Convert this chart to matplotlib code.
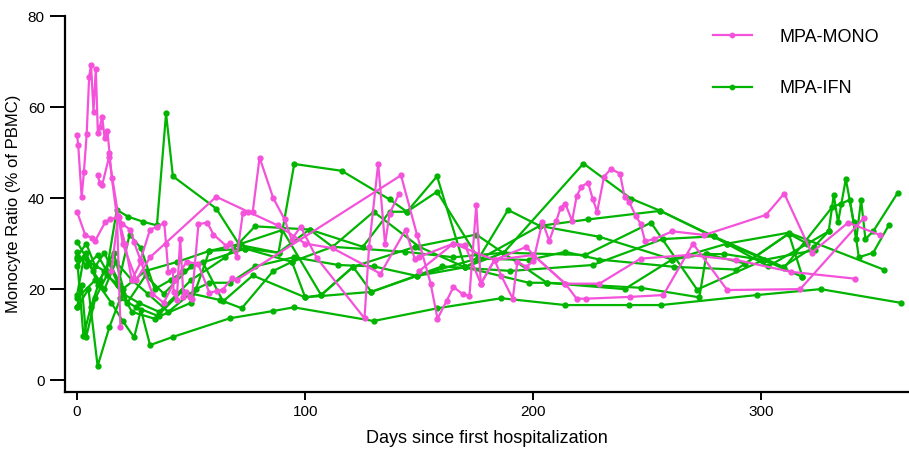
import numpy as np
import matplotlib.pyplot as plt

plt.rcParams['font.family'] = ['Liberation Sans', 'DejaVu Sans']

mono_color = '#F452DA'
ifn_color = '#00B400'

# MPA-MONO patients: (days, monocyte %)
mono_days = [
    [0, 0.5, 2, 3, 4.2, 5.3, 6.1, 7.2, 8.2, 9.1, 10, 11, 12.1, 13.3, 14.2, 15.2, 17.5, 19],
    [0, 3.5, 6.4, 7.9, 12.4, 14.6, 18.3, 19.7, 23.4, 24.9, 27.8, 32, 35.2, 38.2, 39, 40, 42,
     42.3, 43.7, 45.2, 46.6, 47.7, 49.3, 50.3, 53.2, 57.1, 59.8, 65.4, 67.1, 70, 72.7, 77, 80,
     86, 91, 94, 98, 105, 126, 128, 132, 135, 137, 141],
    [9, 10, 11, 14, 20, 26, 32, 61, 75, 88, 100, 112, 133, 144, 148, 150, 165, 170, 177, 183,
     197, 200, 214, 219, 223, 242.5, 257, 270, 285, 317, 345],
    [15, 18, 21, 24, 28, 33, 38, 43, 48, 53, 58, 61.3, 63.9, 67.9, 70, 142, 149, 155, 158, 162,
     165, 169, 172, 175, 177, 183, 186, 191, 193, 197, 200, 204, 207, 210, 212, 214, 217, 219,
     221, 224, 226, 228, 231, 234, 238, 240, 242, 245, 247, 249, 253, 261, 275, 302, 310, 322,
     338, 352],
    [150, 165, 183, 200, 214, 229, 247, 268, 289, 313, 341],
]
mono_vals = [
    [53.8, 51.6, 40.3, 45.8, 54, 66.7, 69.2, 59, 68.4, 54.4, 55.7, 57.9, 53.1, 54.8, 50, 44.5, 35.9, 11.7],
    [37, 32, 31.2, 30.6, 34.8, 35.3, 35.9, 34.4, 33, 30.4, 26.4, 33.1, 33.7, 34.6, 30, 23.8, 24.2,
     19.4, 17.6, 31.1, 18.3, 19.4, 18.3, 17.8, 34.3, 34.6, 32, 29.5, 30.2, 27.1, 36.8, 37, 48.9,
     40, 35.3, 30.9, 33.7, 26.9, 13.6, 29.3, 47.6, 29.9, 36.6, 40.8],
    [45, 43.3, 42.9, 49, 30, 22, 27, 40.3, 37, 34, 30, 29, 23.4, 33, 26.7, 27.1, 30, 29.7, 21.2,
     26.4, 29.3, 27.5, 21.2, 17.9, 17.9, 18.3, 18.7, 30, 19.8, 20, 35.7],
    [24, 36, 30, 22, 26, 19, 17, 22, 26, 25.6, 19.2, 19.6, 19.9, 22.4, 22, 45, 32, 21.2, 13.5,
     17.4, 20.5, 18.9, 18.5, 38.5, 21.2, 26.4, 22.9, 17.9, 26, 24.9, 26.2, 34.8, 30.6, 34.9,
     37.9, 38.8, 35, 40.4, 42.5, 43.4, 39.9, 37, 44.7, 46.4, 45.4, 40.3, 39.2, 36, 34.4, 30.5,
     31, 32.7, 31.9, 36.3, 41, 28, 34.6, 31.9],
    [24, 30, 26.4, 27.5, 21.2, 21.2, 26.7, 27.5, 26.4, 23.8, 22.3],
]

# MPA-IFN patients
ifn_days = [
    [0, 8, 15, 20, 25, 28, 32, 42, 67, 86, 95, 130, 158, 186, 214, 242, 256, 298, 326, 361],
    [0, 4, 9, 13, 17.4, 22.5, 29, 35, 39, 42, 61, 71.2, 88.3, 101.9, 125.3, 137, 144.6, 157.8,
     176, 188.9, 202.8, 223.8, 255.7, 285, 310, 331, 334.9, 338.7, 341.6, 343.7, 345.6, 349, 359.8],
    [0, 4, 9, 14, 20, 30, 44, 58, 73.7, 88.3, 95.2, 116, 137, 144.6, 157.8, 170, 202.8, 229, 261,
     285, 312, 353.6],
    [0, 5, 12, 20, 27, 36, 50, 65, 78, 101.9, 112, 130, 150, 170, 187, 222, 242.8, 255.7, 279,
     309.5, 323, 329.5, 331.7, 333.6, 337, 340.5, 342.7, 349, 355.8],
    [0, 2, 4, 8, 13, 18, 24, 34, 46, 62.7, 72.2, 86, 94.2, 100, 107, 121, 129, 149, 170, 198,
     206, 247, 272.8, 275.9, 283.8, 301, 318],
    [0, 3, 7, 12, 17, 24, 31, 40, 52, 58, 67.1, 78, 95, 114.6, 130, 149, 175.3, 198, 214, 229,
     261.8, 289, 312, 318],
    [0, 2.8, 6, 10, 16, 22, 30, 38, 50, 73.7, 94.2, 112, 143.9, 165, 187, 222.8, 251.6, 271.8,
     301, 323.7],
    [0, 5, 9, 14.2, 19, 26, 36, 50, 58, 72, 90, 107, 121, 148.2, 175, 206, 240, 260.8, 276,
     293, 312, 320],
    [0, 4, 8, 12, 18, 23, 28, 34, 41, 47, 55, 64, 77, 100, 129, 160, 190, 226, 256.7, 279, 303,
     329.5],
]
ifn_vals = [
    [18, 22, 17, 13, 9.4, 15.4, 7.7, 9.5, 13.6, 15.2, 16, 13, 15.8, 18, 16.5, 16.5, 16.5, 18.7, 20, 17],
    [28.2, 25, 27.5, 24, 37.4, 35.9, 34.8, 34, 58.6, 44.8, 37.7, 29.7, 28, 33.1, 29.3, 37, 37,
     41.4, 26.7, 37.4, 33.9, 35.3, 37.2, 30, 24.7, 38, 38.8, 39.6, 31, 39.6, 31, 32.7, 41.2],
    [25, 28, 21, 26, 20, 24, 26, 28.4, 28.9, 28, 47.5, 46, 39.7, 37, 44.8, 24.8, 33.9, 31.5,
     26.5, 30, 32.4, 24.3],
    [30.4, 26, 24, 19, 17, 15, 22, 27, 33.8, 33.1, 29.3, 37, 29.3, 24.8, 28, 47.6, 39.9, 37.2,
     31.6, 24.9, 29.3, 32.7, 40.7, 34.7, 44.2, 34.7, 27, 28, 34],
    [16, 21, 9.5, 18, 23, 21, 15, 13.5, 19.5, 17.6, 15.8, 24, 26, 18.2, 18.7, 24.9, 19.4, 22.9,
     24.8, 21.4, 21.4, 20.3, 18.2, 27.7, 27.7, 26.4, 22.7],
    [18.7, 27, 24, 20, 26, 22, 19, 15, 20, 21.4, 21.4, 25, 27, 25.3, 25, 22.9, 26.7, 26.4, 28.2,
     26.5, 24.9, 24.3, 32.2, 22.7],
    [26.7, 9.7, 16, 22, 28, 17, 23, 19, 25, 28.9, 26, 29.3, 28.2, 27, 28, 27.5, 34.6, 19.9,
     26.4, 28.6],
    [16, 20, 3.1, 11.7, 18, 16, 14, 17, 28.4, 30, 33, 18.7, 24.9, 29.3, 32, 21.4, 20, 26.5,
     27.7, 25.6, 32.2, 30],
    [27.1, 30, 25, 28, 21, 32, 29, 20, 22, 24, 26, 17.3, 23, 18.2, 19.4, 25, 24, 25.3, 31, 31.6,
     25, 32.7],
]

fig = plt.figure(figsize=(9.09, 4.59), dpi=100)
ax = fig.add_axes([0.0715, 0.146, 0.928, 0.819])

style = dict(lw=1.6, marker='o', ms=3.5)
for i in range(len(ifn_days)):
    ax.plot(ifn_days[i], ifn_vals[i], color=ifn_color, **style)
for i in range(len(mono_days)):
    ax.plot(mono_days[i], mono_vals[i], color=mono_color, **style)

# legend handles
ax.plot([], [], color=mono_color, lw=1.6, marker='o', ms=3.5, label='MPA-MONO')
ax.plot([], [], color=ifn_color, lw=1.6, marker='o', ms=3.5, label='MPA-IFN')
leg = ax.legend(loc='upper left', bbox_to_anchor=(0.766, 0.973),
                bbox_transform=fig.transFigure, frameon=False,
                fontsize=13, handlelength=2.2, labelspacing=1.9, handletextpad=1.5,
                markerscale=0.9)

ax.set_xlim(-5.3, 364.5)
ax.set_ylim(-2.6, 80)
ax.set_xticks([0, 100, 200, 300])
ax.set_yticks([0, 20, 40, 60, 80])
ax.set_xlabel('Days since first hospitalization', fontsize=13, labelpad=8)
ax.set_ylabel('Monocyte Ratio (% of PBMC)', fontsize=12, labelpad=5)

ax.spines['top'].set_visible(False)
ax.spines['right'].set_visible(False)
ax.spines['left'].set_linewidth(1.6)
ax.spines['bottom'].set_linewidth(1.6)
ax.tick_params(axis='y', length=11, width=1.4, labelsize=11)
ax.tick_params(axis='x', length=6, width=1.4, labelsize=11)

fig.savefig('out.png', dpi=100)
